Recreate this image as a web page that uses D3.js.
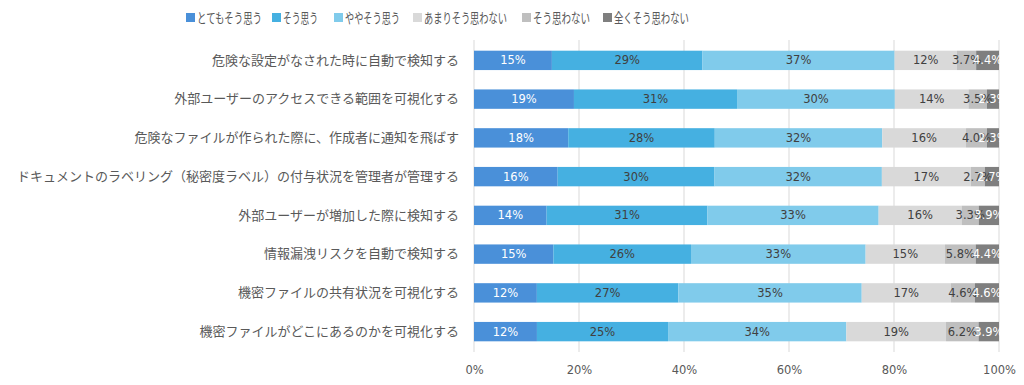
<!DOCTYPE html>
<html>
<head>
<meta charset="utf-8">
<script src="https://cdn.jsdelivr.net/npm/d3@7"></script>
<style>
  body { margin: 0; background: #fff; }
  svg text { font-family: "Noto Sans CJK JP", "Noto Sans", sans-serif; }
  svg text.num { font-family: "DejaVu Sans", sans-serif; }
</style>
</head>
<body>
<script>
// categories top to bottom
var categories = [
  "危険な設定がなされた時に自動で検知する",
  "外部ユーザーのアクセスできる範囲を可視化する",
  "危険なファイルが作られた際に、作成者に通知を飛ばす",
  "ドキュメントのラベリング（秘密度ラベル）の付与状況を管理者が管理する",
  "外部ユーザーが増加した際に検知する",
  "情報漏洩リスクを自動で検知する",
  "機密ファイルの共有状況を可視化する",
  "機密ファイルがどこにあるのかを可視化する"
];

var seriesNames = ["とてもそう思う", "そう思う", "ややそう思う", "あまりそう思わない", "そう思わない", "全くそう思わない"];

var vStrong   = [15, 19, 18, 16, 14, 15, 12, 12];
var vAgree    = [29, 31, 28, 30, 31, 26, 27, 25];
var vSomewhat = [37, 30, 32, 32, 33, 33, 35, 34];
var vNotMuch  = [12, 14, 16, 17, 16, 15, 17, 19];
var vDisagree = [3.7, 3.5, 4.0, 2.7, 3.3, 5.8, 4.6, 6.2];
var vNotAtAll = [4.4, 2.3, 2.3, 2.7, 3.9, 4.4, 4.6, 3.9];

var tickValues = [0, 20, 40, 60, 80, 100];

var colors = ["#4a90d9", "#45b0e1", "#80cbeb", "#d9d9d9", "#bfbfbf", "#7f7f7f"];
var labelColors = ["#ffffff", "#404040", "#404040", "#404040", "#404040", "#ffffff"];

var allSeries = [vStrong, vAgree, vSomewhat, vNotMuch, vDisagree, vNotAtAll];

var width = 1024, height = 385;
var margin = {top: 40, right: 25, bottom: 33, left: 474};

var svg = d3.select("body").append("svg")
    .attr("width", width)
    .attr("height", height);

var rows = categories.map(function(c, i) {
  var row = {name: c};
  seriesNames.forEach(function(s, j) { row[s] = allSeries[j][i]; });
  return row;
});

// normalise to 100%
var stacked = d3.stack().keys(seriesNames).offset(d3.stackOffsetExpand)(rows);

var x = d3.scaleLinear().domain([0, 1]).range([margin.left, width - margin.right]);
var y = d3.scaleBand().domain(categories)
    .range([margin.top + 1, height - margin.bottom - 1])
    .paddingInner(0.5).paddingOuter(0.25);

// grid
svg.append("g").selectAll("line")
  .data(tickValues)
  .enter().append("line")
  .attr("x1", function(d) { return x(d / 100); })
  .attr("x2", function(d) { return x(d / 100); })
  .attr("y1", margin.top)
  .attr("y2", height - margin.bottom)
  .attr("stroke", "#d9d9d9")
  .attr("stroke-width", 1);

// bars
var groups = svg.append("g").selectAll("g")
  .data(stacked)
  .enter().append("g")
  .attr("fill", function(d, i) { return colors[i]; });

groups.selectAll("rect")
  .data(function(d) { return d; })
  .enter().append("rect")
  .attr("x", function(d) { return x(d[0]); })
  .attr("y", function(d) { return y(d.data.name); })
  .attr("width", function(d) { return x(d[1]) - x(d[0]); })
  .attr("height", y.bandwidth());

// bar labels
stacked.forEach(function(layer, i) {
  svg.append("g").selectAll("text")
    .data(layer)
    .enter().append("text")
    .attr("class", "num")
    .attr("x", function(d) { return (x(d[0]) + x(d[1])) / 2; })
    .attr("y", function(d) { return y(d.data.name) + y.bandwidth() / 2; })
    .attr("dy", "0.35em")
    .attr("text-anchor", "middle")
    .attr("font-size", "11.5px")
    .attr("fill", labelColors[i])
    .text(function(d) {
      var v = d.data[layer.key];
      return (v < 10 ? v.toFixed(1) : v) + "%";
    });
});

// category labels
var yAxis = d3.axisLeft(y).tickSize(0).tickPadding(15);
svg.append("g")
  .attr("transform", "translate(" + margin.left + ",0)")
  .call(yAxis)
  .call(function(g) { g.select(".domain").remove(); })
  .selectAll("text")
  .attr("font-size", "13px")
  .attr("fill", "#595959");

// x axis
var xAxis = d3.axisBottom(x).tickValues(tickValues.map(function(d) { return d / 100; }))
  .tickFormat(function(d) { return Math.round(d * 100) + "%"; })
  .tickSize(0).tickPadding(14);
svg.append("g")
  .attr("transform", "translate(0," + (height - margin.bottom) + ")")
  .call(xAxis)
  .call(function(g) { g.select(".domain").remove(); })
  .selectAll("text")
  .attr("class", "num")
  .attr("font-size", "11.5px")
  .attr("fill", "#595959");

// legend
var legendX = [186, 272, 334, 413, 522, 603];
var legendW = [65, 35, 55, 83, 57, 75];
var legend = svg.append("g").selectAll("g")
  .data(seriesNames)
  .enter().append("g")
  .attr("transform", function(d, i) { return "translate(" + legendX[i] + ",13)"; });

legend.append("rect")
  .attr("width", 9).attr("height", 9)
  .attr("fill", function(d, i) { return colors[i]; });

legend.append("text")
  .attr("x", 11).attr("y", 5)
  .attr("dy", "0.35em")
  .attr("font-size", "13.5px")
  .attr("fill", "#595959")
  .attr("textLength", function(d, i) { return legendW[i]; })
  .attr("lengthAdjust", "spacingAndGlyphs")
  .text(function(d) { return d; });
</script>
</body>
</html>
